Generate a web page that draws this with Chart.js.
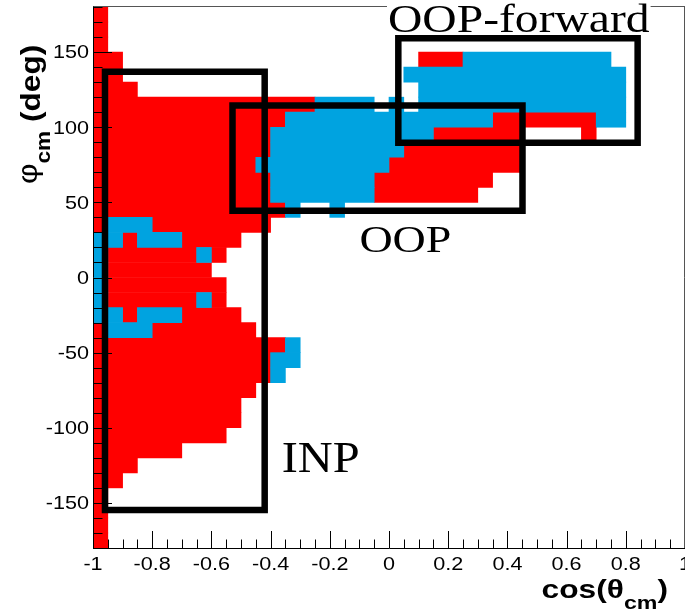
<!DOCTYPE html>
<html>
<head>
<meta charset="utf-8">
<script src="https://cdn.jsdelivr.net/npm/chart.js@4.4.0/dist/chart.umd.min.js"></script>
<style>
  html, body { margin: 0; padding: 0; background: #fff; }
</style>
</head>
<body>
<canvas id="c" width="685" height="614"></canvas>
<script>
// cos(theta_cm) bins: 40 bins of 0.05 starting at -1
const cosLow = -1;
const cosStep = 0.05;
// phi_cm rows: lower edge of each 10 deg bin, top row first
const phiStep = 10;
const phiLow = [170, 160, 150, 140, 130, 120, 110, 100, 90, 80, 70, 60, 50, 40, 30, 20, 10, 0,
  -10, -20, -30, -40, -50, -60, -70, -80, -90, -100, -110, -120, -130, -140, -150, -160, -170, -180];
// one string per phi row, one char per cos bin: r = red, b = blue, . = empty
const cellRows = [
  'r.......................................',
  'r.......................................',
  'r.......................................',
  'rr....................rrrbbbbbbbbbb.....',
  'rr...................bbbbbbbbbbbbbbb....',
  'rrr...................bbbbbbbbbbbbbb....',
  'rrrrrrrrrrrrrrrbbbb.b.bbbbbbbbbbbbbb....',
  'rrrrrrrrrrrrrbbbbbbbbbbbbbbrrrrrrrbb....',
  'rrrrrrrrrrrrbbbbbbbbbbbrrrrrr....r......',
  'rrrrrrrrrrrrbbbbbbbbbrrrrrrrr...........',
  'rrrrrrrrrrrbbbbbbbbbrrrrrrrrr...........',
  'rrrrrrrrrrrrbbbbbbbrrrrrrrr.............',
  'rrrrrrrrrrrrbbbbbbbrrrrrrr..............',
  'rrrrrrrrrrrrrb..b.......................',
  'rbbbrrrrrrrr............................',
  'bbrbbbrrrr..............................',
  'brrrrrrbr...............................',
  'brrrrrrr................................',
  'brrrrrrrr...............................',
  'brrrrrrbr...............................',
  'bbrbbbrrrr..............................',
  'rbbbrrrrrrr.............................',
  'rrrrrrrrrrrrrb..........................',
  'rrrrrrrrrrrrbb..........................',
  'rrrrrrrrrrrrb...........................',
  'rrrrrrrrrrr.............................',
  'rrrrrrrrrr..............................',
  'rrrrrrrrrr..............................',
  'rrrrrrrrr...............................',
  'rrrrrr..................................',
  'rrr.....................................',
  'rr......................................',
  'r.......................................',
  'r.......................................',
  'r.......................................',
  'r.......................................'
];

// selection boxes (cos range, phi range)
const boxNames = ['INP', 'OOP', 'OOP-forward'];
const boxCosLo = [-0.9595, -0.5287, 0.0315];
const boxCosHi = [-0.420, 0.451, 0.840];
const boxPhiLo = [-154.7, 44.4, 89.7];
const boxPhiHi = [136.9, 114.5, 159.2];

// box captions: left edge and baseline in data units
const labelText = ['INP', 'OOP', 'OOP-forward'];
const labelCos = [-0.3625, -0.100, -0.0034];
const labelPhi = [-129.2, 17.2, 163.6];

// axis ticks
const xTicks = [-1, -0.8, -0.6, -0.4, -0.2, 0, 0.2, 0.4, 0.6, 0.8, 1];
const xTickLabels = ['-1', '-0.8', '-0.6', '-0.4', '-0.2', '0', '0.2', '0.4', '0.6', '0.8', '1'];
const yTicks = [-150, -100, -50, 0, 50, 100, 150];
const yTickLabels = ['-150', '-100', '-50', '0', '50', '100', '150'];

const RED = '#ff0000';
const BLUE = '#00a3e0';

// merge runs of equal cells in each row into floating horizontal bars
const redCells = [], blueCells = [];
cellRows.forEach((row, r) => {
  const phiMid = phiLow[r] + phiStep / 2;
  let i = 0;
  while (i < row.length) {
    const ch = row[i];
    let j = i;
    while (j < row.length && row[j] === ch) j++;
    if (ch !== '.') {
      const cell = { y: phiMid, x: [cosLow + i * cosStep, cosLow + j * cosStep] };
      (ch === 'r' ? redCells : blueCells).push(cell);
    }
    i = j;
  }
});

const cellSet = (label, data, color) => ({
  type: 'bar', label, data,
  indexAxis: 'y', grouped: false,
  categoryPercentage: 1, barPercentage: 1,
  backgroundColor: color, borderWidth: 0, order: 1
});

const boxSets = boxNames.map((name, k) => ({
  type: 'line', label: name, showLine: true,
  data: [
    { x: boxCosLo[k], y: boxPhiLo[k] }, { x: boxCosLo[k], y: boxPhiHi[k] },
    { x: boxCosHi[k], y: boxPhiHi[k] }, { x: boxCosHi[k], y: boxPhiLo[k] },
    { x: boxCosLo[k], y: boxPhiLo[k] }
  ],
  borderColor: '#000', borderWidth: 6.5, pointRadius: 0, fill: false, tension: 0,
  borderJoinStyle: 'miter', borderCapStyle: 'square', order: 0
}));

// text along its own direction is drawn a bit wide, like the original
function wideText(ctx, text, x, y, font, align, sx) {
  ctx.save();
  ctx.font = font;
  ctx.textAlign = align;
  ctx.textBaseline = 'alphabetic';
  ctx.translate(x, y);
  ctx.scale(sx, 1);
  ctx.fillText(text, 0, 0);
  ctx.restore();
}

const labelFont = [44, 38, 39];
const labelStretch = [1.10, 1.21, 1.22];

const rootAxes = {
  id: 'rootAxes',
  beforeDraw(chart) {
    const ctx = chart.ctx;
    ctx.save();
    ctx.fillStyle = '#fff';
    ctx.fillRect(0, 0, chart.width, chart.height);
    ctx.restore();
  },
  afterDatasetsDraw(chart) {
    const { ctx, chartArea: a, scales: { x, y } } = chart;
    ctx.save();

    // frame
    ctx.strokeStyle = '#555';
    ctx.lineWidth = 1;
    ctx.beginPath();
    ctx.moveTo(a.left, a.top - 0.5);
    ctx.lineTo(a.right, a.top - 0.5);
    ctx.moveTo(a.right - 0.5, a.top - 0.5);
    ctx.lineTo(a.right - 0.5, a.bottom);
    ctx.stroke();

    // axis lines
    ctx.strokeStyle = '#000';
    ctx.beginPath();
    ctx.moveTo(a.left + 0.5, a.top - 0.5);
    ctx.lineTo(a.left + 0.5, a.bottom + 0.5);
    ctx.lineTo(a.right, a.bottom + 0.5);
    ctx.stroke();

    // ticks, pointing into the frame
    ctx.beginPath();
    for (let k = 0; k <= 40; k++) {
      const px = Math.round(x.getPixelForValue(-1 + k * 0.05)) + 0.5;
      const len = k % 4 === 0 ? 17 : 8.5;
      ctx.moveTo(px, a.bottom);
      ctx.lineTo(px, a.bottom - len);
    }
    for (let k = 0; k <= 36; k++) {
      const v = -180 + k * 10;
      const py = Math.round(y.getPixelForValue(v)) + 0.5;
      const len = (v % 50 === 0 && Math.abs(v) <= 150) ? 19 : 9.5;
      ctx.moveTo(a.left, py);
      ctx.lineTo(a.left + len, py);
    }
    ctx.stroke();

    // tick labels
    ctx.fillStyle = '#000';
    xTicks.forEach((v, i) => {
      wideText(ctx, xTickLabels[i], x.getPixelForValue(v), a.bottom + 22, '18px "Liberation Sans"', 'center', 1.2);
    });
    yTicks.forEach((v, i) => {
      wideText(ctx, yTickLabels[i], a.left - 4, y.getPixelForValue(v) + 6.3, '18px "Liberation Sans"', 'right', 1.2);
    });

    // x title: cos(theta_cm), right aligned
    {
      const big = 'bold 26px "Liberation Sans"', small = 'bold 19px "Liberation Sans"';
      const sx = 1.22;
      ctx.font = big; const w1 = ctx.measureText('cos(\u03B8').width;
      ctx.font = small; const w2 = ctx.measureText('cm').width;
      ctx.font = big; const w3 = ctx.measureText(')').width;
      let x0 = 668 - (w1 + w2 + w3) * sx;
      const base = 598;
      wideText(ctx, 'cos(\u03B8', x0, base, big, 'left', sx); x0 += w1 * sx;
      wideText(ctx, 'cm', x0, base + 11, small, 'left', sx); x0 += w2 * sx;
      wideText(ctx, ')', x0, base, big, 'left', sx);
    }

    // y title: phi_cm (deg), rotated, reading upwards
    {
      const big = 'bold 28px "Liberation Sans"', small = 'bold 20px "Liberation Sans"';
      const sx = 1.13;
      ctx.save();
      ctx.translate(39.5, 184);
      ctx.rotate(-Math.PI / 2);
      ctx.font = '28px "Liberation Sans"'; const w1 = ctx.measureText('\u03C6').width;
      ctx.font = small; const w2 = ctx.measureText('cm').width;
      let x0 = 0;
      wideText(ctx, '\u03C6', x0, -3, '28px "Liberation Sans"', 'left', sx); x0 += w1 * sx;
      wideText(ctx, 'cm', x0, 10, small, 'left', sx); x0 += w2 * sx;
      wideText(ctx, ' (deg)', x0, 0, big, 'left', sx);
      ctx.restore();
    }

    // box captions, with a white strip above them that hides the frame line
    labelText.forEach((t, k) => {
      const px = x.getPixelForValue(labelCos[k]);
      const py = y.getPixelForValue(labelPhi[k]);
      const font = labelFont[k] + 'px "Liberation Serif"';
      ctx.font = font;
      const w = ctx.measureText(t).width * labelStretch[k];
      const capTop = py - labelFont[k] * 0.66;
      ctx.fillStyle = '#fff';
      ctx.fillRect(px - 1, capTop - 3, w + 2, 5);
      ctx.fillStyle = '#000';
      wideText(ctx, t, px, py, font, 'left', labelStretch[k]);
    });

    ctx.restore();
  }
};

new Chart(document.getElementById('c'), {
  type: 'scatter',
  data: {
    datasets: [
      ...boxSets,
      cellSet('blue', blueCells, BLUE),
      cellSet('red', redCells, RED)
    ]
  },
  options: {
    responsive: false,
    animation: false,
    events: [],
    layout: { padding: { left: 93, right: 0, top: 7, bottom: 66 } },
    plugins: { legend: { display: false }, tooltip: { enabled: false } },
    scales: {
      x: { type: 'linear', min: -1, max: 1, offset: false, display: false, grid: { offset: false } },
      y: { type: 'linear', min: -180, max: 180, offset: false, display: false, grid: { offset: false } }
    }
  },
  plugins: [rootAxes]
});
</script>
</body>
</html>
